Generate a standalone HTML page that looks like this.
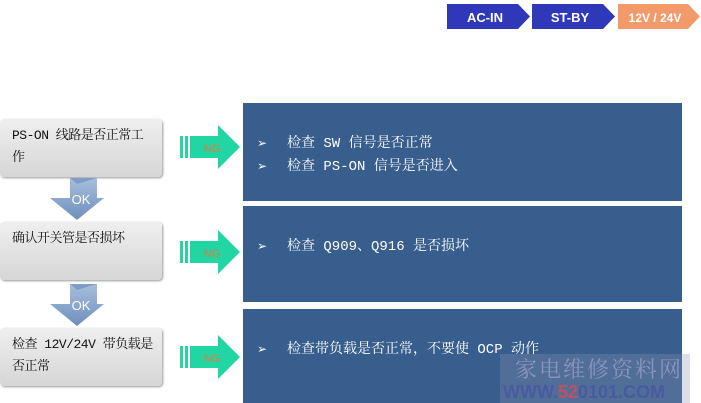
<!DOCTYPE html>
<html><head><meta charset="utf-8"><style>
body{margin:0;width:701px;height:403px;background:#fff;position:relative;overflow:hidden;font-family:"Liberation Mono","Noto Serif CJK SC",serif}
.l{position:absolute;left:0;width:162px;height:58px;border-radius:4px;background:linear-gradient(#efefef,#d6d6d6);box-shadow:1px 1px 2px #999;font-size:13px;line-height:22px;padding:6px 0 0 12px;box-sizing:border-box;color:#111;letter-spacing:-0.5px}
.b{position:absolute;left:243px;width:439px;background:#385e8e;color:#fff;font-size:14px;box-sizing:border-box;padding-left:14px}
.b div{height:23px;line-height:23px;white-space:nowrap}
.b span{display:inline-block;width:30px;font-family:"DejaVu Sans",sans-serif;font-size:12px}
.ng{position:absolute;left:180px;width:60px;height:44px}
.dn{position:absolute;left:50px;width:54px;height:42px}
</style></head><body>
<svg width="701" height="403" style="position:absolute;left:0;top:0">
<polygon points="447,4 518,4 530,16.5 518,29 447,29" fill="#2e38b8"/>
<polygon points="532,4 603,4 615,16.5 603,29 532,29" fill="#2e38b8"/>
<polygon points="618,4 688,4 700,16.5 688,29 618,29" fill="#f39a6a"/>
<text x="485" y="22" font-family="Liberation Sans" font-weight="bold" font-size="13" fill="#fff" text-anchor="middle">AC-IN</text>
<text x="570" y="22" font-family="Liberation Sans" font-weight="bold" font-size="13" fill="#fff" text-anchor="middle">ST-BY</text>
<text x="655" y="22" font-family="Liberation Sans" font-weight="bold" font-size="12" fill="#fff" text-anchor="middle">12V / 24V</text>
</svg>
<div class="l" style="top:119px">PS-ON 线路是否正常工<br>作</div>
<div class="l" style="top:222px">确认开关管是否损坏</div>
<div class="l" style="top:328px">检查 12V/24V 带负载是<br>否正常</div>
<svg class="dn" style="top:178px" viewBox="0 0 54 42"><defs><linearGradient id="g" x1="0" x2="0" y1="0" y2="1"><stop offset="0" stop-color="#a8bfdc"/><stop offset="1" stop-color="#6d8fbd"/></linearGradient></defs><polygon points="20,0 47,0 47,20 54,20 27,42 0,20 20,20" fill="url(#g)"/><polygon points="20,0 27,6 47,0" fill="#7f9dc6"/><text x="31" y="26" font-family="Liberation Sans" font-size="13" fill="#fff" text-anchor="middle">OK</text></svg>
<svg class="dn" style="top:284px" viewBox="0 0 54 42"><polygon points="20,0 47,0 47,20 54,20 27,42 0,20 20,20" fill="url(#g)"/><polygon points="20,0 27,6 47,0" fill="#7f9dc6"/><text x="31" y="26" font-family="Liberation Sans" font-size="13" fill="#fff" text-anchor="middle">OK</text></svg>
<svg class="ng" style="top:125px" viewBox="0 0 60 44"><rect x="0" y="11" width="3" height="22" fill="#2bd1a0"/><rect x="5" y="11" width="3" height="22" fill="#2bd1a0"/><polygon points="10,11 38,11 38,0 60,22 38,44 38,33 10,33" fill="#22d6a3"/><text x="32" y="27" font-family="Liberation Sans" font-size="11" fill="#e5783c" text-anchor="middle">NG</text></svg>
<svg class="ng" style="top:230px" viewBox="0 0 60 44"><rect x="0" y="11" width="3" height="22" fill="#2bd1a0"/><rect x="5" y="11" width="3" height="22" fill="#2bd1a0"/><polygon points="10,11 38,11 38,0 60,22 38,44 38,33 10,33" fill="#22d6a3"/><text x="32" y="27" font-family="Liberation Sans" font-size="11" fill="#e5783c" text-anchor="middle">NG</text></svg>
<svg class="ng" style="top:335px" viewBox="0 0 60 44"><rect x="0" y="11" width="3" height="22" fill="#2bd1a0"/><rect x="5" y="11" width="3" height="22" fill="#2bd1a0"/><polygon points="10,11 38,11 38,0 60,22 38,44 38,33 10,33" fill="#22d6a3"/><text x="32" y="27" font-family="Liberation Sans" font-size="11" fill="#e5783c" text-anchor="middle">NG</text></svg>
<div class="b" style="top:103px;height:98px;padding-top:29px"><div><span>➢</span>检查 SW 信号是否正常</div><div><span>➢</span>检查 PS-ON 信号是否进入</div></div>
<div class="b" style="top:206px;height:96px;padding-top:29px"><div><span>➢</span>检查 Q909、Q916 是否损坏</div></div>
<div class="b" style="top:309px;height:94px;padding-top:29px"><div><span>➢</span>检查带负载是否正常，不要使 OCP 动作</div></div>
<div style="position:absolute;left:500px;top:354px;width:190px;height:49px;background:rgba(140,150,175,0.3)"></div>
<div style="position:absolute;left:515px;top:353px;font-size:22px;letter-spacing:2px;white-space:nowrap;color:#8a95bb;font-family:'Noto Serif CJK SC',serif">家电维修资料网</div>
<div style="position:absolute;left:503px;top:382px;font-size:18px;font-weight:bold;white-space:nowrap;color:#4a5aa0;font-family:'Liberation Sans',sans-serif">WWW.<span style="color:#c05060">52</span>0101.COM</div>
</body></html>
